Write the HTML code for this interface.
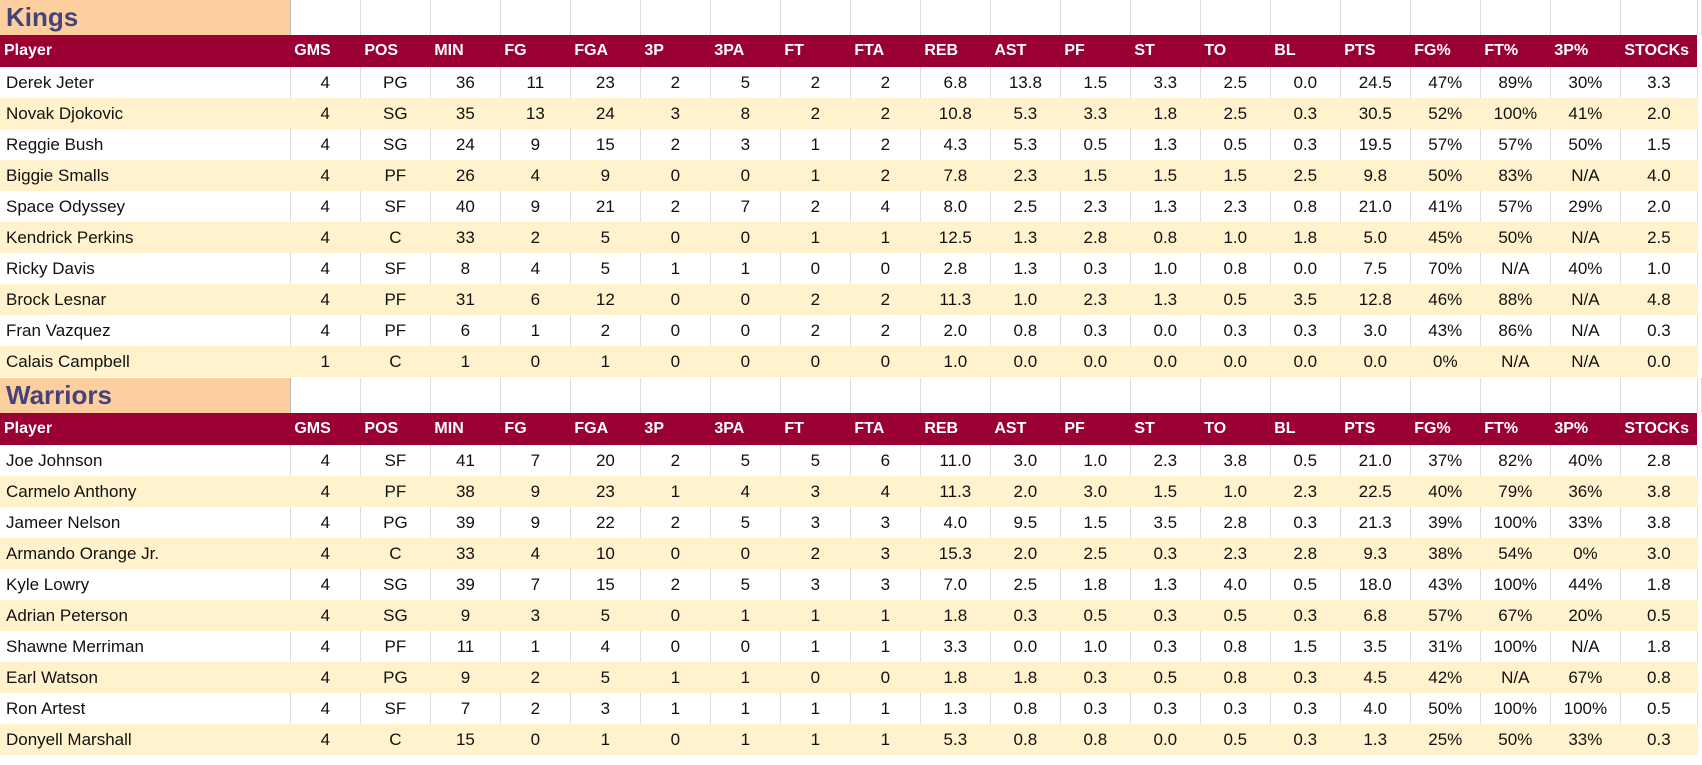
<!DOCTYPE html>
<html><head><meta charset="utf-8"><style>
body{margin:0;width:1702px;height:765px;background:#fff;overflow:hidden;font-family:"Liberation Sans",sans-serif;}
table{position:absolute;left:0;border-collapse:collapse;table-layout:fixed;}
td{padding:0;font-size:17px;color:#111;text-align:center;white-space:nowrap;overflow:hidden;border-right:1px solid #dcdcdc;box-sizing:border-box;}
td.p{text-align:left;padding-left:6px;border-right:1px solid #dcdcdc;}
tr.t td{height:35px;border-right:1px solid #dcdcdc;}
tr.t td.o{background:#fdcf9f;color:#44447a;font-weight:bold;font-size:26px;text-align:left;padding-left:6px;border-right:1px solid #bbb;}
tr.h td{height:32px;background:#9b0035;color:#fff;font-weight:bold;font-size:16px;text-align:left;padding-left:4px;border-right:none;}
tr.h td.e{background:#fff;}
tr.r td{height:31px;}
tr.y td{background:#fff2cc;border-right-color:#fff2cc;}
</style></head><body>
<table id="k" style="top:0"></table>
<table id="w" style="top:378px"></table>
<script>
const W=[291].concat(Array(19).fill(70.2)).concat([77,4]);
const H=["Player","GMS","POS","MIN","FG","FGA","3P","3PA","FT","FTA","REB","AST","PF","ST","TO","BL","PTS","FG%","FT%","3P%","STOCKs"];
const K=[
"Derek Jeter|4|PG|36|11|23|2|5|2|2|6.8|13.8|1.5|3.3|2.5|0.0|24.5|47%|89%|30%|3.3",
"Novak Djokovic|4|SG|35|13|24|3|8|2|2|10.8|5.3|3.3|1.8|2.5|0.3|30.5|52%|100%|41%|2.0",
"Reggie Bush|4|SG|24|9|15|2|3|1|2|4.3|5.3|0.5|1.3|0.5|0.3|19.5|57%|57%|50%|1.5",
"Biggie Smalls|4|PF|26|4|9|0|0|1|2|7.8|2.3|1.5|1.5|1.5|2.5|9.8|50%|83%|N/A|4.0",
"Space Odyssey|4|SF|40|9|21|2|7|2|4|8.0|2.5|2.3|1.3|2.3|0.8|21.0|41%|57%|29%|2.0",
"Kendrick Perkins|4|C|33|2|5|0|0|1|1|12.5|1.3|2.8|0.8|1.0|1.8|5.0|45%|50%|N/A|2.5",
"Ricky Davis|4|SF|8|4|5|1|1|0|0|2.8|1.3|0.3|1.0|0.8|0.0|7.5|70%|N/A|40%|1.0",
"Brock Lesnar|4|PF|31|6|12|0|0|2|2|11.3|1.0|2.3|1.3|0.5|3.5|12.8|46%|88%|N/A|4.8",
"Fran Vazquez|4|PF|6|1|2|0|0|2|2|2.0|0.8|0.3|0.0|0.3|0.3|3.0|43%|86%|N/A|0.3",
"Calais Campbell|1|C|1|0|1|0|0|0|0|1.0|0.0|0.0|0.0|0.0|0.0|0.0|0%|N/A|N/A|0.0"];
const Wr=[
"Joe Johnson|4|SF|41|7|20|2|5|5|6|11.0|3.0|1.0|2.3|3.8|0.5|21.0|37%|82%|40%|2.8",
"Carmelo Anthony|4|PF|38|9|23|1|4|3|4|11.3|2.0|3.0|1.5|1.0|2.3|22.5|40%|79%|36%|3.8",
"Jameer Nelson|4|PG|39|9|22|2|5|3|3|4.0|9.5|1.5|3.5|2.8|0.3|21.3|39%|100%|33%|3.8",
"Armando Orange Jr.|4|C|33|4|10|0|0|2|3|15.3|2.0|2.5|0.3|2.3|2.8|9.3|38%|54%|0%|3.0",
"Kyle Lowry|4|SG|39|7|15|2|5|3|3|7.0|2.5|1.8|1.3|4.0|0.5|18.0|43%|100%|44%|1.8",
"Adrian Peterson|4|SG|9|3|5|0|1|1|1|1.8|0.3|0.5|0.3|0.5|0.3|6.8|57%|67%|20%|0.5",
"Shawne Merriman|4|PF|11|1|4|0|0|1|1|3.3|0.0|1.0|0.3|0.8|1.5|3.5|31%|100%|N/A|1.8",
"Earl Watson|4|PG|9|2|5|1|1|0|0|1.8|1.8|0.3|0.5|0.8|0.3|4.5|42%|N/A|67%|0.8",
"Ron Artest|4|SF|7|2|3|1|1|1|1|1.3|0.8|0.3|0.3|0.3|0.3|4.0|50%|100%|100%|0.5",
"Donyell Marshall|4|C|15|0|1|0|1|1|1|5.3|0.8|0.8|0.0|0.5|0.3|1.3|25%|50%|33%|0.3"];
function build(id,title,data){
 let s='<colgroup>'+W.map(w=>'<col style="width:'+w+'px">').join('')+'</colgroup>';
 s+='<tr class="t"><td class="o">'+title+'</td>'+'<td></td>'.repeat(21)+'</tr>';
 s+='<tr class="h">'+H.map(h=>'<td>'+h+'</td>').join('')+'<td class="e"></td></tr>';
 data.forEach((r,i)=>{const c=r.split('|');s+='<tr class="r'+(i%2?' y':'')+'">'+c.map((v,j)=>'<td'+(j==0?' class="p"':'')+'>'+v+'</td>').join('')+'<td style="background:#fff;border:none"></td></tr>';});
 document.getElementById(id).innerHTML=s;
}
build('k','Kings',K);build('w','Warriors',Wr);
</script>
</body></html>
